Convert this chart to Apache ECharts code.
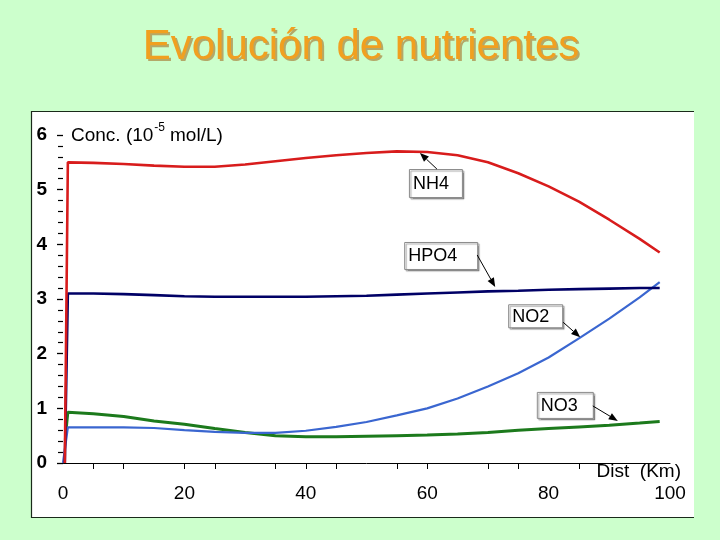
<!DOCTYPE html>
<html><head><meta charset="utf-8">
<script src="https://cdn.jsdelivr.net/npm/echarts@6/dist/echarts.min.js"></script>
<style>html,body{margin:0;padding:0;background:#ccffcc;}#c{width:720px;height:540px;}</style>
</head><body><div id="c"></div>
<script>
// ---- data ----
const seriesNames = ['NO3', 'NO2', 'HPO4', 'NH4'];
const originDist = [0.5, 0.0, 0.3, 0.3];
const originConc = [0.60, 0.0, 0.0, 0.0];
const dist = [0.8, 5, 10, 15, 20, 25, 30, 35, 40, 45, 50, 55, 60, 65, 70, 75, 80, 85, 90, 95, 98.3];
const no3  = [0.93, 0.90, 0.85, 0.77, 0.71, 0.63, 0.56, 0.50, 0.48, 0.48, 0.49, 0.50, 0.51, 0.53, 0.56, 0.60, 0.63, 0.66, 0.69, 0.73, 0.76];
const no2  = [0.65, 0.65, 0.65, 0.64, 0.60, 0.57, 0.55, 0.55, 0.59, 0.66, 0.75, 0.87, 1.00, 1.18, 1.40, 1.64, 1.93, 2.28, 2.64, 3.03, 3.31];
const hpo4 = [3.10, 3.10, 3.09, 3.07, 3.05, 3.04, 3.04, 3.04, 3.04, 3.05, 3.06, 3.08, 3.10, 3.12, 3.14, 3.15, 3.17, 3.18, 3.19, 3.20, 3.20];
const nh4  = [5.50, 5.49, 5.47, 5.44, 5.42, 5.42, 5.46, 5.52, 5.58, 5.63, 5.67, 5.70, 5.69, 5.63, 5.50, 5.30, 5.06, 4.78, 4.45, 4.10, 3.85];
const xTickValues = [5, 10, 20, 25, 35, 40, 45, 55, 60, 70, 75, 85];
const xLabelValues = [0, 20, 40, 60, 80, 100];
const annLabels = ['NH4', 'HPO4', 'NO2', 'NO3'];
const annDist = [58.8, 71.2, 85.2, 91.4];
const annConc = [5.67, 3.22, 2.30, 0.77];

// ---- styles / layout ----
const FONT = '"Liberation Sans", Arial, sans-serif';
const colors = ['#1c7a1c', '#3a66d0', '#000066', '#d81c1c'];
const widths = [3, 2.2, 2.6, 2.6];
// box [dx, dy, w, h] relative to arrow tip, arrow start [dx, dy]
const annBox = [[-11, 16, 53, 28], [-91, -45, 73, 27], [-72, -33, 54, 23], [-81, -29, 56, 26]];
const annStart = [[17, 16], [-18, -32], [-17, -15], [-25, -15]];

const yVals = [no3, no2, hpo4, nh4];
const chart = echarts.init(document.getElementById('c'), null, {renderer: 'canvas'});

const series = seriesNames.map((n, i) => ({
  name: n, type: 'line', symbol: 'none', smooth: false, z: 3 + i,
  lineStyle: {color: colors[i], width: widths[i]},
  data: [[originDist[i], originConc[i]]].concat(dist.map((d, k) => [d, yVals[i][k]]))
}));

chart.setOption({
  backgroundColor: '#ccffcc',
  animation: false,
  grid: {left: 63, right: 50, top: 135, bottom: 77},
  xAxis: {
    type: 'value', min: 0, max: 100, interval: 20,
    axisLine: {show: true, onZero: false, lineStyle: {color: '#000', width: 1}},
    axisTick: {show: true, customValues: xTickValues, length: 6, lineStyle: {color: '#000'}},
    axisLabel: {customValues: xLabelValues, color: '#000', fontSize: 19, fontFamily: FONT, margin: 21},
    splitLine: {show: false}
  },
  yAxis: {
    type: 'value', min: 0, max: 6, interval: 1,
    axisLine: {show: false},
    axisTick: {show: true, length: 6, lineStyle: {color: '#000', width: 1.3}},
    minorTick: {show: true, splitNumber: 5, length: 5, lineStyle: {color: '#000', width: 1.2}},
    axisLabel: {color: '#000', fontSize: 19, fontWeight: 'bold', fontFamily: FONT, margin: 16},
    splitLine: {show: false}, minorSplitLine: {show: false}
  },
  series: series
});

// measure helper
const mctx = document.createElement('canvas').getContext('2d');
function tw(t, f) { mctx.font = f; return mctx.measureText(t).width; }

const g = [];
// panel
g.push({type: 'rect', z: -10, shape: {x: 31, y: 111, width: 663, height: 407}, style: {fill: '#ffffff'}});
g.push({type: 'polyline', z: -9, shape: {points: [[694, 111.5], [31.5, 111.5], [31.5, 517.5], [694, 517.5]]}, style: {stroke: '#1a2a1a', lineWidth: 1.2, fill: null}});
// title (shadow copy + main)
const titleText = 'Evolución de nutrientes';
g.push({type: 'text', z: 49, x: 363, y: 49, style: {text: titleText, font: '42px ' + FONT, fill: '#b4a868', align: 'center', verticalAlign: 'middle'}});
g.push({type: 'text', z: 50, x: 361, y: 47, style: {text: titleText, font: '42px ' + FONT, fill: '#f0a020', align: 'center', verticalAlign: 'middle'}});
// y axis name with superscript
const f1 = '19px ' + FONT, f2 = '12px ' + FONT;
let cx = 71;
g.push({type: 'text', z: 50, x: cx, y: 136, style: {text: 'Conc. (10', font: f1, fill: '#000', align: 'left', verticalAlign: 'middle'}});
cx += tw('Conc. (10', f1) + 1;
g.push({type: 'text', z: 50, x: cx, y: 128, style: {text: '-5', font: f2, fill: '#000', align: 'left', verticalAlign: 'middle'}});
cx += tw('-5', f2) + 5;
g.push({type: 'text', z: 50, x: cx, y: 136, style: {text: 'mol/L)', font: f1, fill: '#000', align: 'left', verticalAlign: 'middle'}});
// x axis name
g.push({type: 'text', z: 50, x: 681, y: 472, style: {text: 'Dist  (Km)', font: '19px ' + FONT, fill: '#000', align: 'right', verticalAlign: 'middle'}});

// annotations
annLabels.forEach((lab, i) => {
  const p = chart.convertToPixel({gridIndex: 0}, [annDist[i], annConc[i]]);
  const b = annBox[i], s = annStart[i];
  const bx = p[0] + b[0], by = p[1] + b[1];
  g.push({type: 'rect', z: 60, shape: {x: bx + 0.5, y: by + 0.5, width: b[2], height: b[3]},
    style: {fill: '#ffffff', stroke: '#8a8a8a', lineWidth: 1, shadowColor: 'rgba(0,0,0,0.35)', shadowOffsetX: 1.5, shadowOffsetY: 1.5, shadowBlur: 1}});
  g.push({type: 'text', z: 61, x: bx + 4, y: by + b[3] / 2 + 1, style: {text: lab, font: '18px ' + FONT, fill: '#000', align: 'left', verticalAlign: 'middle'}});
  const sx = p[0] + s[0], sy = p[1] + s[1];
  const ang = Math.atan2(p[1] - sy, p[0] - sx);
  const L = 9, W = 3.6;
  const bxh = p[0] - L * Math.cos(ang), byh = p[1] - L * Math.sin(ang);
  g.push({type: 'line', z: 60, shape: {x1: sx, y1: sy, x2: bxh, y2: byh}, style: {stroke: '#000', lineWidth: 1}});
  g.push({type: 'polygon', z: 61, shape: {points: [[p[0], p[1]],
    [bxh + W * Math.sin(ang), byh - W * Math.cos(ang)],
    [bxh - W * Math.sin(ang), byh + W * Math.cos(ang)]]}, style: {fill: '#000'}});
});

chart.setOption({graphic: g});
</script>
</body></html>
